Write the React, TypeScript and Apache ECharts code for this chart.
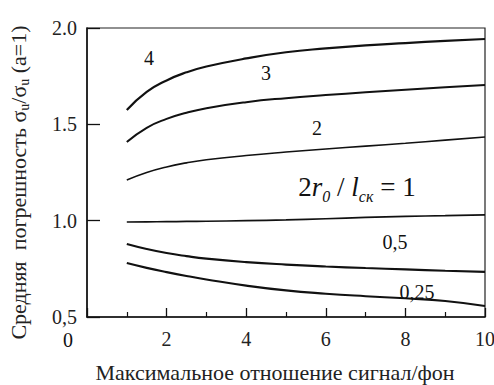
import React, { useEffect, useRef } from "react";
import * as echarts from "echarts";

const xTicks = [0, 2, 4, 6, 8, 10];
const yTickLabels: Record<string, string> = { "0.5": "0,5", "1": "1.0", "1.5": "1.5", "2": "2.0" };

const xs = [1, 1.5, 2, 2.5, 3, 4, 5, 6, 7, 8, 9, 10];
const curve4 = [1.574, 1.668, 1.728, 1.77, 1.8, 1.842, 1.874, 1.894, 1.91, 1.922, 1.933, 1.943];
const curve3 = [1.408, 1.482, 1.528, 1.56, 1.584, 1.615, 1.636, 1.652, 1.666, 1.679, 1.692, 1.704];
const curve2 = [1.211, 1.25, 1.279, 1.3, 1.316, 1.338, 1.356, 1.372, 1.387, 1.402, 1.418, 1.434];
const curve1 = [0.993, 0.994, 0.995, 0.996, 0.997, 1.0, 1.004, 1.01, 1.017, 1.022, 1.026, 1.03];
const curve05 = [0.879, 0.853, 0.832, 0.816, 0.803, 0.785, 0.772, 0.762, 0.754, 0.747, 0.74, 0.734];
const curve025 = [0.78, 0.755, 0.733, 0.713, 0.695, 0.663, 0.638, 0.621, 0.608, 0.597, 0.583, 0.557];

const FONT = "Liberation Serif";

const pairs = (ys: number[]) => xs.map((x, i) => [x, ys[i]]);

export default function App() {
  const ref = useRef<HTMLDivElement>(null);
  useEffect(() => {
    if (!ref.current) return;
    const chart = echarts.init(ref.current, null, { renderer: "svg" });
    const line = (data: number[][], w: number) => ({
      type: "line",
      data,
      smooth: 0.5,
      symbol: "none",
      lineStyle: { color: "#111", width: w },
      silent: true,
    });
    const txt = (text: string, x: number, y: number, size = 20) => ({
      type: "text",
      x,
      y,
      style: {
        text,
        fontFamily: FONT,
        fontSize: size,
        fill: "#111",
        textAlign: "center",
        textVerticalAlign: "middle",
      },
    });
    chart.setOption({
      animation: false,
      backgroundColor: "#fff",
      textStyle: { fontFamily: FONT },
      grid: {
        left: 87,
        right: 9,
        top: 28,
        bottom: 68,
        show: true,
        borderColor: "#222",
        borderWidth: 1.2,
        outerBoundsMode: "none",
        containLabel: false,
      },
      xAxis: {
        type: "value",
        min: xTicks[0],
        max: xTicks[xTicks.length - 1],
        interval: 2,
        splitLine: { show: false },
        axisLine: { show: true, onZero: false, lineStyle: { color: "#111", width: 1.5 } },
        axisTick: { show: true, inside: true, length: 9, lineStyle: { color: "#111", width: 1.3 } },
        minorTick: { show: true, splitNumber: 2, length: 5, lineStyle: { color: "#111", width: 1.2 } },
        axisLabel: {
          showMinLabel: false,
          margin: 12,
          color: "#222",
          fontFamily: FONT,
          fontSize: 20,
        },
        name: "Максимальное отношение сигнал/фон",
        nameLocation: "middle",
        nameGap: 44,
        nameTextStyle: { fontFamily: FONT, fontSize: 22, color: "#222", padding: [0, 22, 0, 0] },
      },
      yAxis: {
        type: "value",
        min: 0.5,
        max: 2.0,
        interval: 0.5,
        splitLine: { show: false },
        axisLine: { show: true, onZero: false, lineStyle: { color: "#111", width: 1.5 } },
        axisTick: { show: true, inside: true, length: 13, lineStyle: { color: "#111", width: 1.3 } },
        axisLabel: {
          margin: 10,
          color: "#222",
          fontFamily: FONT,
          fontSize: 20,
          formatter: (v: number) => yTickLabels[String(v)] ?? String(v),
        },
        name: "Средняя  погрешность σ{s|u}/σ{s|u} (a=1)",
        nameLocation: "middle",
        nameGap: 56,
        nameRotate: 90,
        nameTextStyle: {
          fontFamily: FONT,
          fontSize: 22,
          color: "#222",
          lineHeight: 26,
          padding: [0, 20, 0, 0],
          rich: {
            s: { fontFamily: FONT, fontSize: 14, color: "#222", verticalAlign: "bottom", lineHeight: 26 },
          },
        },
      },
      series: [
        line(pairs(curve4), 2.2),
        line(pairs(curve3), 2.0),
        line(pairs(curve2), 1.6),
        line(pairs(curve1), 1.7),
        line(pairs(curve05), 2.1),
        line(pairs(curve025), 2.1),
      ],
      graphic: [
        txt("0", 68, 340),
        txt("4", 149, 58),
        txt("3", 266, 73),
        txt("2", 317, 128),
        {
          type: "text",
          x: 357,
          y: 187,
          style: {
            text: "{n|2}{i|r}{s|0}{n| / }{i|l}{s|ск}{n| = 1}",
            fontFamily: FONT,
            fontSize: 27,
            fill: "#111",
            textAlign: "center",
            textVerticalAlign: "middle",
            rich: {
              n: { fontFamily: FONT, fontSize: 27, fill: "#111", lineHeight: 34 },
              i: { fontFamily: FONT, fontSize: 27, fontStyle: "italic", fill: "#111", lineHeight: 34 },
              s: { fontFamily: FONT, fontSize: 16, fontStyle: "italic", fill: "#111", verticalAlign: "bottom", lineHeight: 34 },
            },
          },
        },
        txt("0,5", 395, 242),
        txt("0,25", 417, 292),
      ],
    });
    return () => chart.dispose();
  }, []);
  return <div ref={ref} style={{ width: 494, height: 385, position: "absolute", left: 0, top: 0 }} />;
}
